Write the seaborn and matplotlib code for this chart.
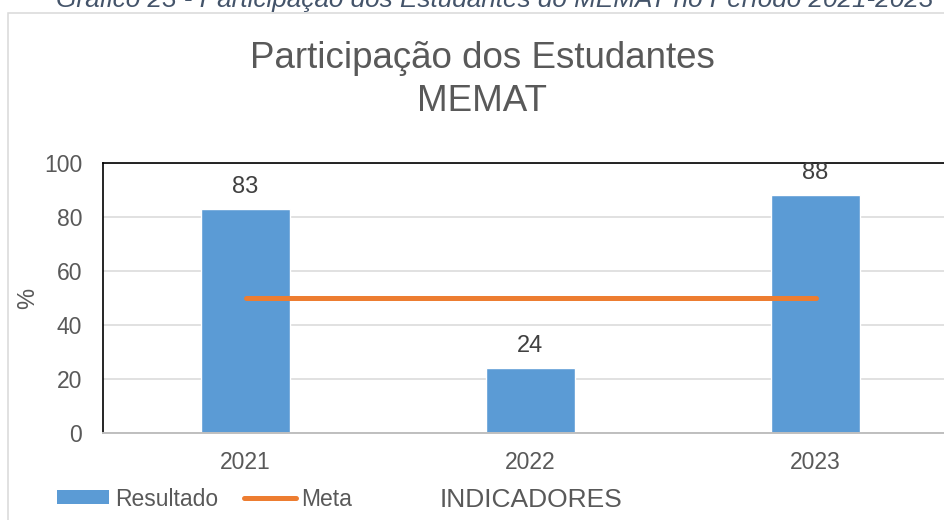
import matplotlib
matplotlib.use("Agg")
import matplotlib.pyplot as plt
import seaborn as sns
import numpy as np
import pandas as pd
from matplotlib.patches import Patch, Rectangle
from matplotlib.lines import Line2D

# ---- data ----
categories = ["2021", "2022", "2023"]
resultado = [83, 24, 88]
meta = [50, 50, 50]
y_ticks = [0, 20, 40, 60, 80, 100]

caption = "Gráfico 23 - Participação dos Estudantes do MEMAT no Período 2021-2023"
title_l1 = "Participação dos Estudantes"
title_l2 = "MEMAT"

# ---- style ----
sns.set_theme(style="white")
plt.rcParams['font.family'] = ['Liberation Sans', 'DejaVu Sans']

BLUE = "#5B9BD5"
ORANGE = "#ED7D31"
TXT = "#595959"
GRID = "#D9D9D9"

W, H = 945, 520
fig = plt.figure(figsize=(W / 100, H / 100), dpi=100)
fig.patch.set_facecolor("white")

# outer chart frame (extends past right/bottom edges)
fig.patches.append(Rectangle((8 / W, -10 / H), (956 - 8) / W, (H - 13 + 10) / H,
                             transform=fig.transFigure, fill=False,
                             edgecolor=GRID, linewidth=1.1, zorder=0))

# plot area
left, right, top, bottom = 103, 958, 163, 433
ax = fig.add_axes([left / W, 1 - bottom / H, (right - left) / W, (bottom - top) / H])
ax.set_facecolor("none")

df = pd.DataFrame({"ano": categories, "valor": resultado})
sns.barplot(data=df, x="ano", y="valor", color=BLUE, width=0.312,
            saturation=1, ax=ax, zorder=2)
sns.lineplot(x=np.arange(len(categories)), y=meta, color=ORANGE, linewidth=3.6,
             ax=ax, zorder=3, solid_capstyle="round")

ax.set_xlim(-0.5, 2.5)
ax.set_ylim(0, 100)
ax.set_yticks(y_ticks)
ax.set_yticklabels([str(t) for t in y_ticks])
ax.yaxis.grid(True, color=GRID, linewidth=1.1, zorder=0)
ax.set_axisbelow(True)

for sp in ["left", "top"]:
    ax.spines[sp].set_color("black")
    ax.spines[sp].set_linewidth(1.2)
ax.spines["right"].set_visible(False)
ax.spines["bottom"].set_color("#BFBFBF")
ax.spines["bottom"].set_linewidth(1.4)

ax.tick_params(axis="both", length=0, labelsize=16.5, labelcolor=TXT)
ax.tick_params(axis="y", pad=15)
ax.tick_params(axis="x", pad=13)

# data labels
for i, v in enumerate(resultado):
    ax.annotate(str(v), (i, v), xytext=(0, 11.8), textcoords="offset points",
                ha="center", va="baseline", fontsize=17, color="#404040", zorder=4)

ax.set_ylabel("%", fontsize=17, color=TXT)
ax.yaxis.set_label_coords((28 - left) / (right - left), 0.5)
ax.yaxis.label.set_va("center")
ax.set_xlabel("INDICADORES", fontsize=19, color=TXT)
ax.xaxis.set_label_coords(0.5, -(500 - bottom) / (bottom - top))
ax.xaxis.label.set_va("center")

# titles
fig.text(482 / W, 1 - 68 / H, title_l1, ha="center", va="baseline",
         fontsize=26.5, color=TXT)
fig.text(482 / W, 1 - 111 / H, title_l2, ha="center", va="baseline",
         fontsize=26.5, color=TXT)
fig.text(933 / W, 1 - 7.5 / H, caption, ha="right", va="baseline",
         fontsize=18.8, style="italic", color="#44546A")

# legend
handles = [Patch(facecolor=BLUE, edgecolor="none"),
           Line2D([0], [0], color=ORANGE, linewidth=3.6, solid_capstyle="round")]
fig.legend(handles, ["Resultado", "Meta"], loc="center left",
           bbox_to_anchor=(57 / W, 1 - 499 / H), ncol=2, frameon=False,
           fontsize=16.5, handlelength=2.26, handleheight=0.57,
           handletextpad=0.26, columnspacing=1.13, borderpad=0,
           borderaxespad=0, labelcolor=TXT)

fig.savefig("out.png", dpi=100, facecolor="white")
